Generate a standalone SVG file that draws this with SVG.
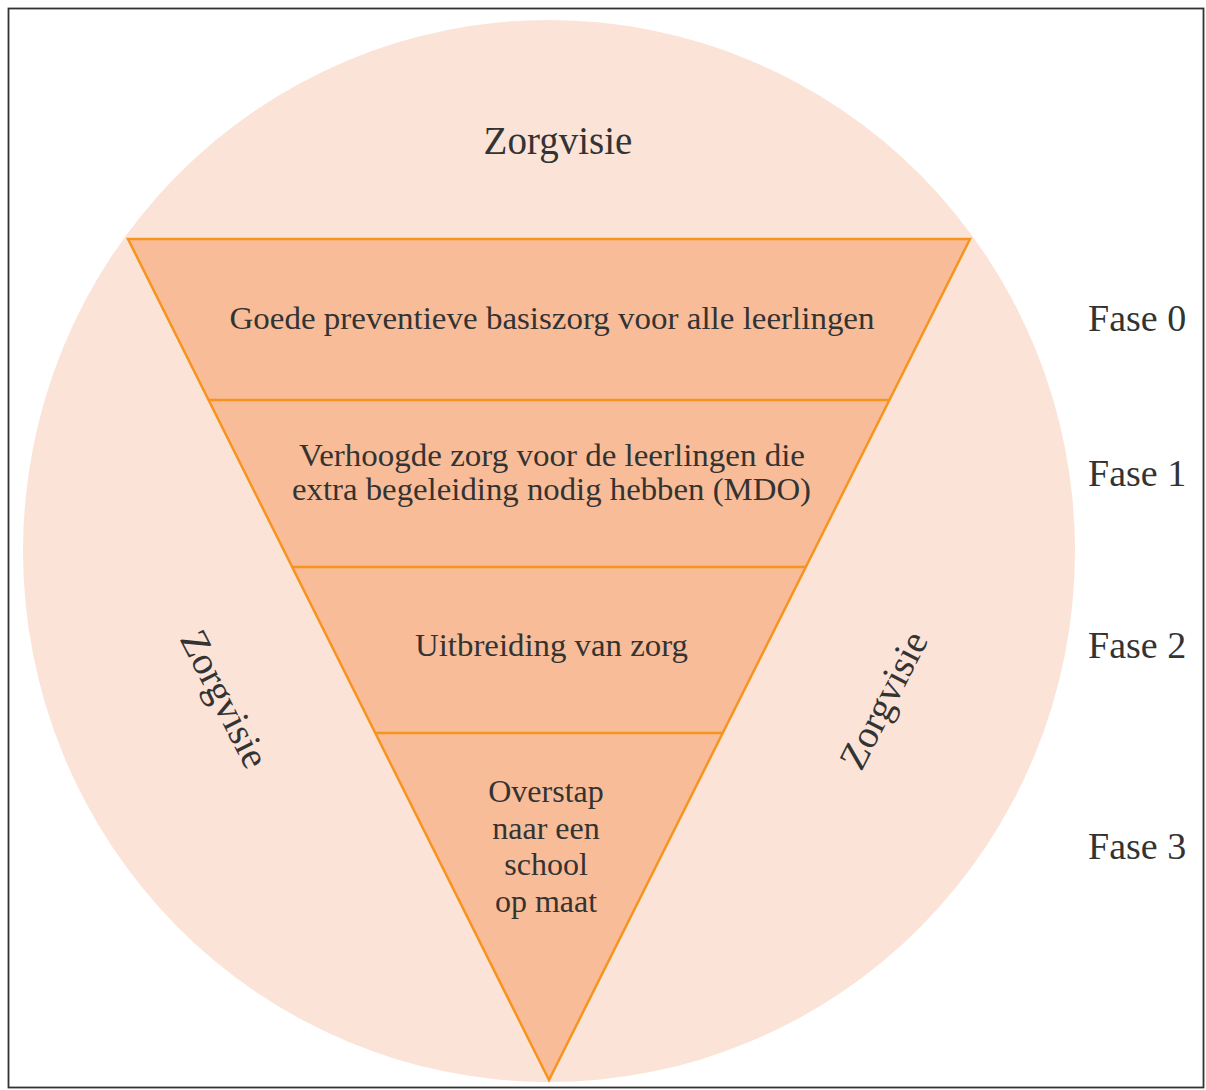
<svg xmlns="http://www.w3.org/2000/svg" width="1206" height="1090" viewBox="0 0 1206 1090">
<style>
.t{font-family:"Liberation Serif","DejaVu Serif",serif;fill:#333333;}
.band{fill:#F8BD98;}
.edge{stroke:#F7941E;stroke-width:2.5;fill:none;stroke-linejoin:miter;}
</style>
<rect x="0" y="0" width="1206" height="1090" fill="#ffffff"/>
<rect x="8.5" y="8.5" width="1195" height="1079" fill="none" stroke="#333333" stroke-width="1.8"/>
<g id="background">
<ellipse cx="549" cy="551" rx="526" ry="531" fill="#FBE3D8"/>
<text class="t" x="558" y="154" font-size="39" text-anchor="middle">Zorgvisie</text>
<text class="t" font-size="39" text-anchor="middle" transform="translate(213,705) rotate(63)">Zorgvisie</text>
<text class="t" font-size="39" text-anchor="middle" transform="translate(895,706) rotate(-63)">Zorgvisie</text>
</g>
<g id="triangle-fill">
<polygon class="band" points="128,239 970,239 549,1080"/>
</g>
<g id="connectors">
<polygon class="edge" points="128,239 970,239 549,1080"/>
<line class="edge" x1="208.6" y1="400" x2="889.4" y2="400"/>
<line class="edge" x1="292.2" y1="567" x2="805.8" y2="567"/>
<line class="edge" x1="375.3" y1="733" x2="722.7" y2="733"/>
</g>
<g id="fase0">
<text class="t" x="552" y="329" font-size="32" text-anchor="middle" textLength="645" lengthAdjust="spacingAndGlyphs">Goede preventieve basiszorg voor alle leerlingen</text>
<text class="t" x="1088" y="331" font-size="38">Fase 0</text>
</g>
<g id="fase1">
<text class="t" x="552" y="466" font-size="32" text-anchor="middle" textLength="506" lengthAdjust="spacingAndGlyphs">Verhoogde zorg voor de leerlingen die</text>
<text class="t" x="551.5" y="500" font-size="32" text-anchor="middle" textLength="519" lengthAdjust="spacingAndGlyphs">extra begeleiding nodig hebben (MDO)</text>
<text class="t" x="1088" y="486" font-size="38">Fase 1</text>
</g>
<g id="fase2">
<text class="t" x="551.5" y="656" font-size="32" text-anchor="middle" textLength="273" lengthAdjust="spacingAndGlyphs">Uitbreiding van zorg</text>
<text class="t" x="1088" y="658" font-size="38">Fase 2</text>
</g>
<g id="fase3">
<text class="t" x="546" y="802" font-size="32" text-anchor="middle">Overstap</text>
<text class="t" x="546" y="839" font-size="32" text-anchor="middle">naar een</text>
<text class="t" x="546" y="875" font-size="32" text-anchor="middle">school</text>
<text class="t" x="546" y="912" font-size="32" text-anchor="middle">op maat</text>
<text class="t" x="1088" y="859" font-size="38">Fase 3</text>
</g>
</svg>
